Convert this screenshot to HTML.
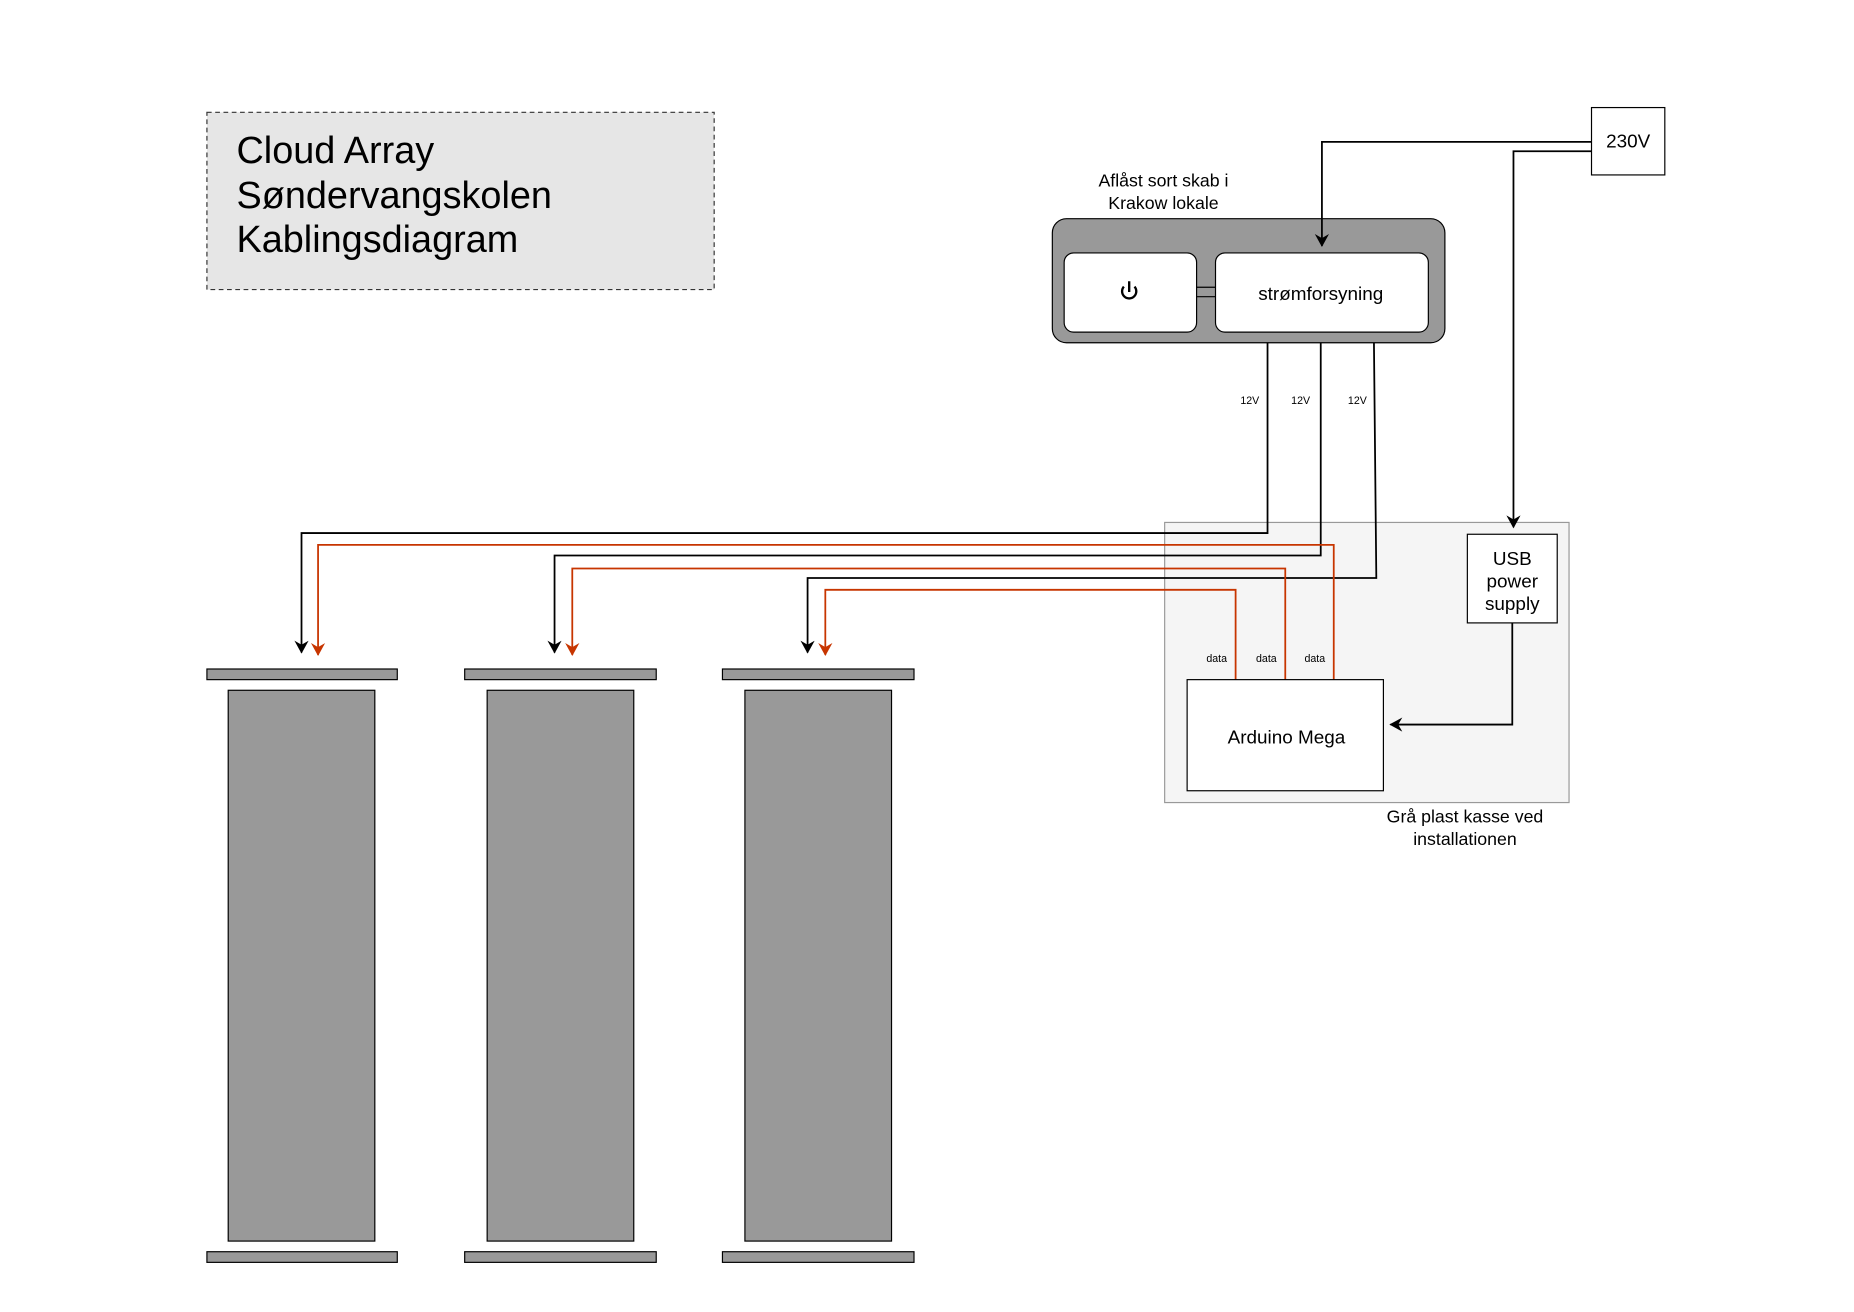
<!DOCTYPE html>
<html><head><meta charset="utf-8"><style>html,body{margin:0;padding:0;background:#fff}svg{display:block}text{font-family:"Liberation Sans",sans-serif}</style></head>
<body>
<svg width="1854" height="1312" viewBox="0 0 1568 1110" preserveAspectRatio="none" xmlns="http://www.w3.org/2000/svg">
<defs>
<marker id="ab" markerWidth="14" markerHeight="14" refX="10" refY="6" orient="auto" markerUnits="userSpaceOnUse"><path d="M0,0 L11,6 L0,12 L3.5,6 z" fill="#000"/></marker>
<marker id="ar" markerWidth="14" markerHeight="14" refX="10" refY="6" orient="auto" markerUnits="userSpaceOnUse"><path d="M0,0 L11,6 L0,12 L3.5,6 z" fill="#c73500"/></marker>
</defs>
<rect width="1568" height="1110" fill="#fff"/>
<rect x="175" y="95" width="429" height="150" fill="#e6e6e6" stroke="#333" stroke-dasharray="4,3"/>
<text x="200" y="138" font-size="32">Cloud Array</text>
<text x="200" y="176" font-size="32">Søndervangskolen</text>
<text x="200" y="213" font-size="32">Kablingsdiagram</text>

<rect x="985" y="442" width="342" height="237" fill="#f5f5f5" stroke="#999"/>
<text x="1239" y="696" font-size="15" text-anchor="middle">Grå plast kasse ved</text>
<text x="1239" y="715" font-size="15" text-anchor="middle">installationen</text>

<rect x="1346" y="91" width="62" height="57" fill="#fff" stroke="#000"/>
<text x="1377" y="125" font-size="16" text-anchor="middle">230V</text>
<text x="984" y="158" font-size="15" text-anchor="middle">Aflåst sort skab i</text>
<text x="984" y="177" font-size="15" text-anchor="middle">Krakow lokale</text>
<rect x="890" y="185" width="332" height="105" rx="12" fill="#999" stroke="#000"/>
<rect x="900" y="214" width="112" height="67" rx="8" fill="#fff" stroke="#000"/>
<rect x="1028" y="214" width="180" height="67" rx="8" fill="#fff" stroke="#000"/>
<text x="1117" y="254" font-size="16" text-anchor="middle">strømforsyning</text>
<path d="M1012,243H1028M1012,251H1028" stroke="#000"/>
<path d="M950.5,242.5 A6,6 0 1 0 959.5,242.5 M955,238 V247" stroke="#000" stroke-width="2" fill="none"/>

<g fill="none" stroke="#000" stroke-width="1.5">
<path d="M1346,120H1118V208" marker-end="url(#ab)"/>
<path d="M1346,128H1280V446" marker-end="url(#ab)"/>
<path d="M1072,290V451H255V552" marker-end="url(#ab)"/>
<path d="M1117,290V470H469V552" marker-end="url(#ab)"/>
<path d="M1162,290L1164,489H683V552" marker-end="url(#ab)"/>
<path d="M1279,527V613H1176" marker-end="url(#ab)"/>
</g>
<g fill="none" stroke="#c73500" stroke-width="1.5">
<path d="M1128,575V461H269V554" marker-end="url(#ar)"/>
<path d="M1087,575V481H484V554" marker-end="url(#ar)"/>
<path d="M1045,575V499H698V554" marker-end="url(#ar)"/>
</g>
<g font-size="9" text-anchor="middle">
<text x="1057" y="342">12V</text><text x="1100" y="342">12V</text><text x="1148" y="342">12V</text>
<text x="1029" y="560">data</text><text x="1071" y="560">data</text><text x="1112" y="560">data</text>
</g>
<rect x="1241" y="452" width="76" height="75" fill="#fff" stroke="#000"/>
<text x="1279" y="478" font-size="16" text-anchor="middle">USB</text>
<text x="1279" y="497" font-size="16" text-anchor="middle">power</text>
<text x="1279" y="516" font-size="16" text-anchor="middle">supply</text>
<rect x="1004" y="575" width="166" height="94" fill="#fff" stroke="#000"/>
<text x="1088" y="629" font-size="16" text-anchor="middle">Arduino Mega</text>

<g fill="#999" stroke="#000">
<rect x="175" y="566" width="161" height="9"/><rect x="193" y="584" width="124" height="466"/><rect x="175" y="1059" width="161" height="9"/>
<rect x="393" y="566" width="162" height="9"/><rect x="412" y="584" width="124" height="466"/><rect x="393" y="1059" width="162" height="9"/>
<rect x="611" y="566" width="162" height="9"/><rect x="630" y="584" width="124" height="466"/><rect x="611" y="1059" width="162" height="9"/>
</g>
</svg>
</body></html>
